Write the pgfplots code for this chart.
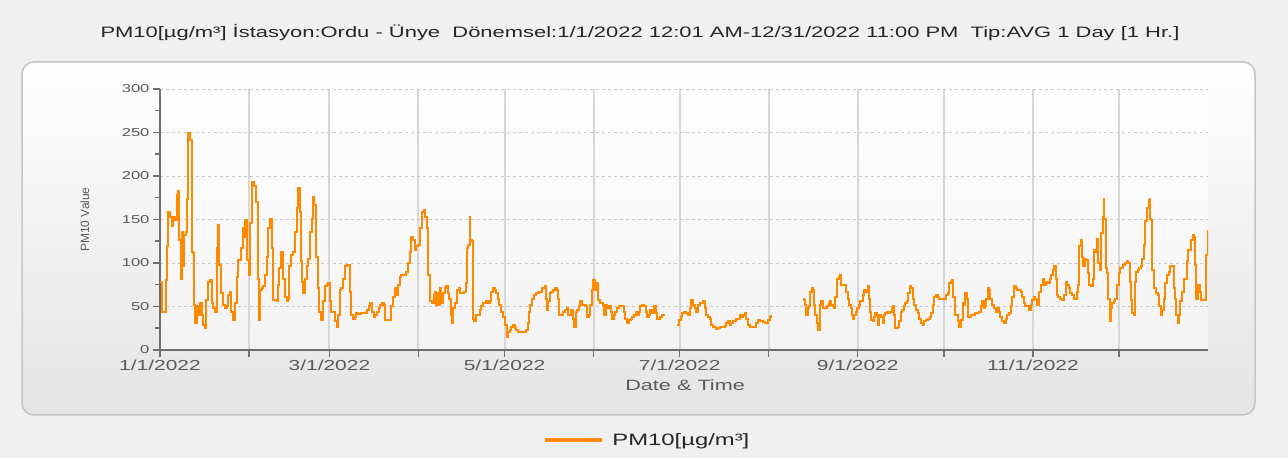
\documentclass[border=0pt]{standalone}
\usepackage{fontspec}
\setmainfont[FakeStretch=1.45]{Liberation Sans}
\newfontfamily\plainfont{Liberation Sans}
\usepackage{pgfplots}
\pgfplotsset{compat=1.18}
\usepackage{pgfplotstable}
\definecolor{pmorange}{HTML}{FF8A00}
\definecolor{bggray}{HTML}{F0F0F0}
\definecolor{panelgray}{HTML}{E4E4E4}
\definecolor{panelborder}{HTML}{C4C4C4}
\definecolor{axisgray}{HTML}{6E6E6E}
\definecolor{labelgray}{HTML}{5A5A5A}
\pgfplotstableread{
d v
0 78
0.6 44
1.7 44
2 80
2.6 119
2.9 159
3.5 153
4.1 142
4.6 153
5.2 149
5.8 178
6.4 183
6.6 126
7.3 82
7.5 136
8.1 96
8.5 132
9.1 136
9.5 174
9.9 249
10.5 241
11.0 113
11.6 111
12.0 52
12.2 31
12.8 50
13.4 40
13.9 54
14.5 40
15.1 29
15.7 25
16.0 57
16.6 78
17.4 80
18.0 54
18.6 48
19.2 44
19.7 117
20.3 144
20.7 98
21.3 65
22.1 52
22.6 48
23.2 50
23.8 63
24.4 67
24.7 44
25.3 34
26.1 54
26.7 84
27.3 103
28.2 117
28.8 140
29.4 130
29.6 149
30.2 103
31.0 86
31.4 146
32.2 193
32.9 188
33.3 170
33.9 170
34.2 82
34.5 34
34.8 69
35.4 71
36.0 73
36.6 86
37.1 107
37.7 140
38.3 151
38.9 117
39.2 57
40.1 57
40.6 56
41.0 75
41.6 94
42.1 113
42.6 113
43.0 82
43.5 61
44.1 56
44.7 59
45.0 96
45.6 109
46.4 113
47.0 136
47.6 163
48.2 186
48.8 159
49.1 102
49.6 78
49.9 65
50.5 82
51.1 96
51.7 105
52.2 136
52.8 151
53.2 176
53.6 167
54.3 107
54.9 71
55.4 44
56.1 34
56.9 56
57.5 73
58.1 75
58.6 77
59.1 56
59.7 44
60.4 44
61.1 33
61.6 27
62.0 40
62.6 69
63.1 71
63.7 82
64.3 96
65.2 98
65.8 98
66.3 67
66.6 40
67.2 36
67.8 38
68.4 42
69.0 41
70.1 42
71.3 42
72.2 46
72.7 50
73.3 54
73.8 44
74.4 38
75.0 40
75.6 44
76.2 48
76.7 52
77.3 54
77.9 52
78.2 34
79.0 34
80.0 34
80.6 50
81.1 61
81.7 71
82.3 63
82.9 75
83.5 84
84.1 86
85.0 86
85.8 90
86.4 100
87.0 113
87.5 130
88.1 126
88.7 115
89.3 119
89.9 121
90.6 140
91.3 159
91.8 161
92.3 153
93.0 140
93.5 86
94.2 56
94.8 54
95.4 63
95.8 67
96.2 52
96.6 65
97.1 52
97.6 71
98.0 54
98.5 65
99.1 71
99.7 73
100.2 65
100.6 59
101.2 40
101.7 31
102.2 48
102.9 54
103.5 69
104.1 71
104.6 65
105.5 65
106.0 67
106.6 77
107.0 117
107.4 121
107.8 153
108.1 126
108.6 125
108.9 36
109.4 33
110.1 40
110.7 40
111.3 46
111.8 50
112.4 54
113.0 54
113.6 56
114.2 54
114.8 56
115.3 67
115.9 71
116.5 69
117.1 65
117.7 59
118.2 52
118.8 44
119.4 38
120.0 29
120.7 15
121.2 21
121.8 23
122.4 27
123.0 29
123.6 25
124.1 23
124.7 21
125.9 21
127.0 21
127.6 23
128.2 31
128.6 44
129.0 52
129.6 59
130.2 63
131.1 65
132.0 67
132.9 71
133.4 71
134.0 73
134.4 59
134.8 46
135.2 56
135.8 65
136.3 67
136.9 69
137.5 71
138.1 69
138.7 59
139.0 40
139.8 40
140.4 44
141.0 46
141.6 48
142.1 40
142.7 40
143.3 46
143.9 36
144.2 27
144.8 44
145.3 46
146.0 50
146.4 56
147.0 52
147.6 52
148.2 50
148.8 38
149.5 40
149.9 52
150.3 69
150.9 80
151.4 69
152.0 77
152.6 57
153.1 54
153.8 54
154.3 52
154.8 40
155.4 52
155.7 48
156.3 50
156.9 44
157.5 36
158.0 40
158.6 44
159.2 48
159.8 50
160.9 50
161.5 44
162.1 36
162.7 31
163.3 34
163.9 36
164.4 38
165.0 40
165.6 44
166.2 40
166.8 44
167.3 50
167.9 52
168.5 50
169.1 44
169.7 38
170.2 40
170.8 46
171.4 42
172.0 50
172.6 42
173.1 36
173.7 36
174.3 38
174.9 40
175.5 41
175.8 nan
180.1 29
180.7 34
181.3 38
181.9 42
182.4 44
183.3 42
183.9 40
184.5 48
185.0 57
185.6 52
186.2 48
186.8 44
187.4 52
188.0 54
188.5 54
189.1 56
189.7 48
190.3 40
190.9 38
191.4 36
192.0 29
192.6 27
193.2 27
193.8 24
194.3 25
194.9 26
195.5 27
196.1 27
196.7 28
197.2 31
197.8 33
198.4 29
199.0 31
199.6 33
200.1 33
200.7 36
201.3 36
201.9 40
202.5 38
203.0 40
203.6 42
204.2 36
204.8 29
205.4 27
206.0 27
206.5 27
207.1 27
207.7 31
208.3 34
208.9 33
209.4 33
210.0 32
210.6 31
211.2 31
211.8 34
212.3 38
212.9 40
213.2 nan
224.0 59
224.4 57
224.8 52
225.1 40
225.6 48
225.9 50
226.5 67
226.9 71
227.3 69
227.7 52
228.0 40
228.5 40
228.8 31
229.2 23
229.8 23
230.0 52
230.3 56
230.9 48
231.4 48
231.7 48
232.3 50
232.9 54
233.2 56
233.7 52
234.3 50
234.6 48
235.2 61
235.8 82
236.3 84
236.7 86
237.2 75
237.8 75
238.3 75
238.9 67
239.5 59
240.1 52
240.7 48
241.0 40
241.4 36
241.8 40
242.3 44
242.8 48
243.3 52
243.9 56
244.7 63
245.3 69
245.9 67
246.5 73
246.8 59
247.3 44
247.6 34
248.2 33
248.8 38
249.1 42
249.6 40
250.0 29
250.5 40
251.1 38
251.7 31
252.0 40
252.5 42
253.1 44
253.7 42
254.2 44
254.8 48
255.4 50
255.8 40
256.1 25
256.9 27
257.5 33
257.9 44
258.4 46
259.0 50
259.6 54
260.1 56
260.6 65
261.2 73
261.6 71
262.1 59
262.7 52
263.3 46
263.9 42
264.5 36
265.0 31
265.6 29
266.2 33
266.8 34
267.4 36
268.0 38
268.5 42
269.1 52
269.7 61
270.3 63
270.9 61
271.4 59
272.0 59
272.6 59
273.2 59
273.8 63
274.3 65
274.9 77
275.5 78
275.9 80
276.2 61
276.7 40
277.3 40
277.9 33
278.4 27
279.0 34
279.6 54
280.2 52
280.5 65
281.1 59
281.5 38
282.0 38
282.5 40
283.1 40
283.7 42
284.8 42
285.4 44
286.0 50
286.3 56
286.9 48
287.3 50
287.7 59
288.2 71
288.7 69
289.2 59
289.8 52
290.4 48
291.0 44
291.6 48
292.1 44
292.7 38
293.3 33
293.9 31
294.5 36
295.0 40
295.6 42
296.2 50
296.8 61
297.4 73
298.0 71
298.5 69
299.1 69
299.7 67
300.3 61
300.9 54
301.4 50
302.0 50
302.6 46
303.2 52
303.8 57
304.3 61
304.9 59
305.5 52
306.1 67
306.9 75
307.5 82
308.0 75
308.6 78
309.2 77
309.8 82
310.4 86
310.9 92
311.5 96
311.9 82
312.3 63
312.9 61
313.5 59
314.1 57
314.7 59
315.0 63
315.4 78
315.8 75
316.4 71
317.0 65
317.6 63
318.2 59
318.7 59
319.3 67
319.7 75
320.2 119
320.8 126
321.2 107
321.6 96
322.0 105
322.6 103
323.1 88
323.7 75
324.3 73
324.9 82
325.2 115
325.7 113
326.2 128
326.6 100
327.2 92
327.8 134
328.3 153
328.6 174
328.9 151
329.5 94
329.9 88
330.3 59
330.8 33
331.3 48
331.6 54
332.1 56
332.7 59
333.4 75
333.9 88
334.5 94
335.4 98
336.2 100
336.8 102
337.2 100
337.7 78
338.2 57
338.6 42
339.1 40
339.5 78
339.9 90
340.5 92
341.1 94
341.7 96
342.1 105
342.6 121
343.2 148
343.8 163
344.3 172
344.7 174
344.9 151
345.3 149
345.6 92
346.3 71
346.9 65
347.5 63
348.0 50
348.6 40
349.1 46
349.6 59
350.1 77
350.7 86
351.3 90
351.9 96
352.5 96
353.0 71
353.6 59
354.0 40
354.4 31
354.8 40
355.4 56
356.0 67
356.5 82
357.1 82
357.5 102
357.9 115
358.6 115
359.1 126
359.7 132
360.1 130
360.5 98
360.9 59
361.4 75
361.8 75
362.1 67
362.6 57
363.7 57
364.2 59
364.4 109
364.9 138
}\pmdata
\begin{document}
\begin{tikzpicture}[x=1bp,y=1bp]
\fill[bggray] (0,0) rectangle (1288,458);
\useasboundingbox (0,0) rectangle (1288,458);
\shade[top color=white, bottom color=panelgray, rounded corners=12bp] (22,43) rectangle (1255,396);
\draw[panelborder, line width=1.5bp, rounded corners=12bp] (22,43) rectangle (1255,396);
\node[font=\fontsize{15.2}{17}\selectfont, text=black!85] at (640,425)
  {PM10[µg/m³] İstasyon:Ordu - Ünye\ \ Dönemsel:1/1/2022 12:01 AM-12/31/2022 11:00 PM\ \ Tip:AVG 1 Day [1 Hr.]};
\begin{axis}[
  at={(160bp,108bp)}, anchor=south west,
  scale only axis, width=1048bp, height=261bp,
  xmin=0, xmax=365, ymin=0, ymax=300,
  axis lines=left,
  axis line style={-, draw=axisgray, line width=2.5bp},
  axis background/.style={shade, top color=white, bottom color=black!5},
  xtick={0,31,59,90,120,151,181,212,243,273,304,334},
  xticklabels={1/1/2022,,3/1/2022,,5/1/2022,,7/1/2022,,9/1/2022,,11/1/2022,},
  ytick={0,50,...,300},
  minor ytick={25,75,...,275},
  tick align=outside,
  major tick length=7bp, minor tick length=5bp,
  tick style={draw=axisgray, line width=1.5bp},
  xmajorgrids, ymajorgrids,
  x grid style={draw=black!16, line width=2bp},
  y grid style={draw=black!22, dashed, line width=0.8bp},
  xticklabel style={font=\fontsize{14.5}{16}\selectfont, text=labelgray},
  yticklabel style={font=\fontsize{11.5}{13}\selectfont, text=labelgray},
  /pgf/number format/assume math mode=true,
  xlabel={Date \& Time},
  xlabel style={font=\fontsize{15}{17}\selectfont, text=labelgray, at={(axis description cs:0.501,-0.134)}, anchor=center},
  ylabel={\plainfont PM10 Value},
  ylabel style={font=\fontsize{12}{14}\selectfont, text=labelgray, at={(axis description cs:-0.0716,0.5)}, anchor=center},
  unbounded coords=jump,
  legend style={at={(axis description cs:0.466,-0.345)}, anchor=center, draw=none, fill=none, font=\fontsize{16.5}{18}\selectfont, text=black!85},
  legend image code/.code={\fill[pmorange] (0bp,-1.4bp) rectangle (55bp,1.4bp); \path[draw=none, fill=none] (0bp,0bp) rectangle (64bp,0.1bp);},
]
\addplot[pmorange, line width=2bp, const plot] table[x=d, y=v] {\pmdata};
\addlegendentry{PM10[µg/m³]}
\end{axis}
\end{tikzpicture}
\end{document}
